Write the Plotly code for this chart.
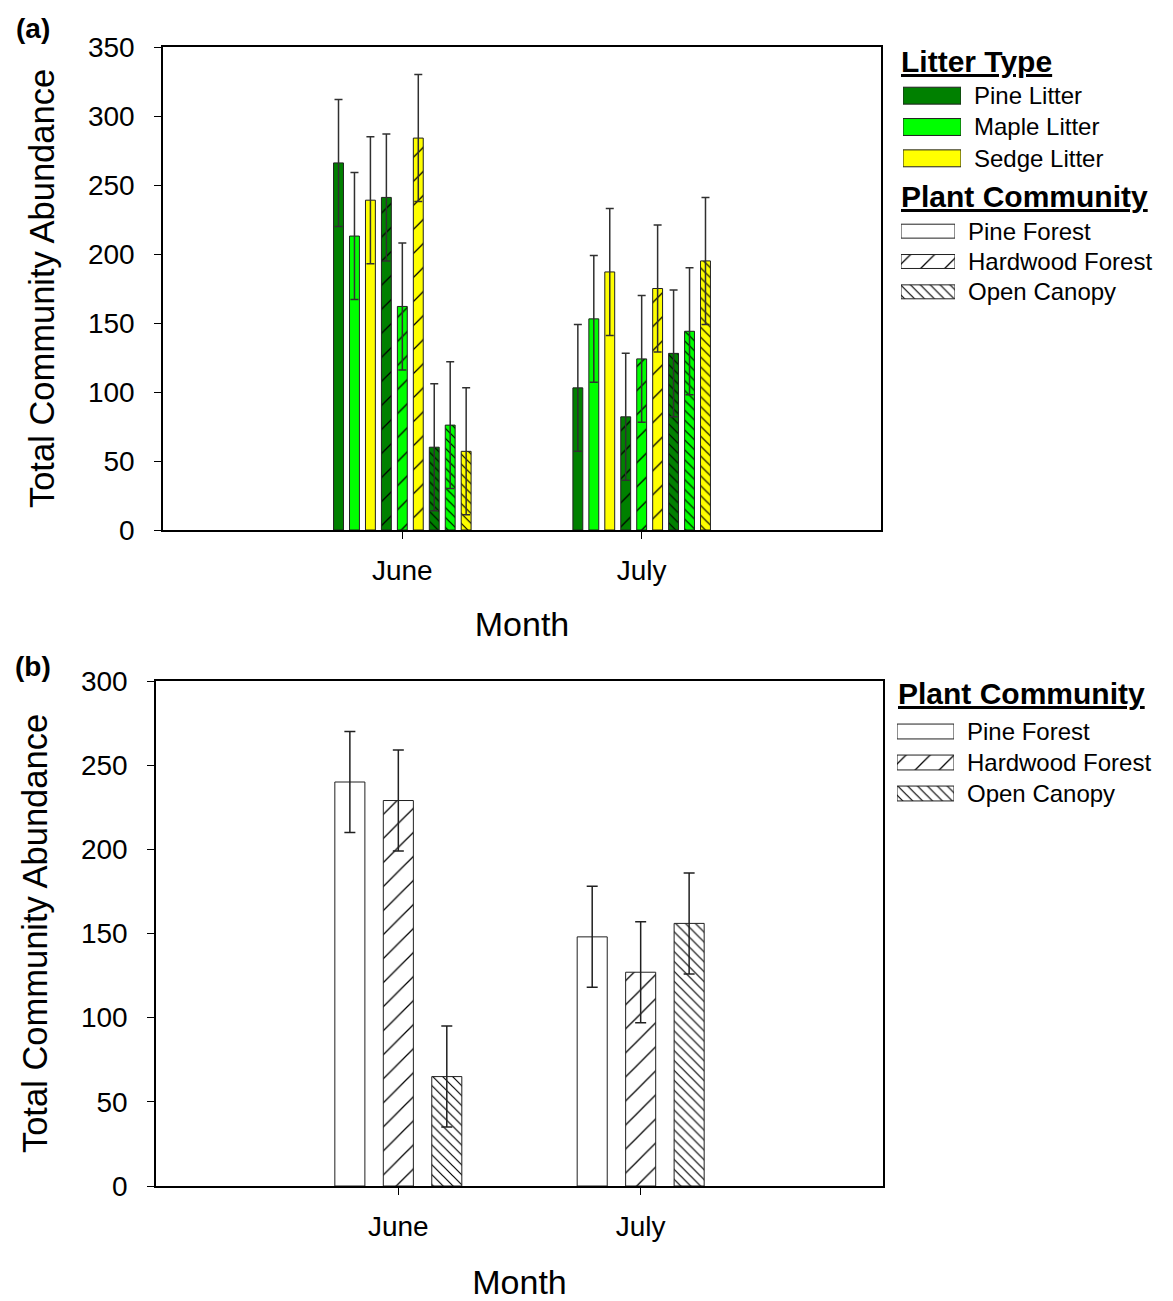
import plotly.graph_objects as go

# ---------------- data ----------------
months = ["June", "July"]
litter_types = ["Pine Litter", "Maple Litter", "Sedge Litter"]
communities = ["Pine Forest", "Hardwood Forest", "Open Canopy"]

# Panel (a): values per litter type (Pine, Maple, Sedge) for each community & month
a_pine_forest_june = [266, 213, 239]
a_pine_forest_july = [103, 153, 187]
a_hardwood_june = [241, 162, 284]
a_hardwood_july = [82, 124, 175]
a_open_june = [60, 76, 57]
a_open_july = [128, 144, 195]
a_error = 46

# Panel (b): values per community (Pine Forest, Hardwood Forest, Open Canopy)
b_june = [240, 229, 65]
b_july = [148, 127, 156]
b_error = 30

# ---------------- styles ----------------
W, H = 1173, 1301
FONT = "Arial, Liberation Sans, sans-serif"
litter_colors = ["#008000", "#00FF00", "#FFFF00"]
pattern_shape = ["", "/", "\\"]
pattern_size = [8, 17, 7]
pattern_solid = [0.2, 0.075, 0.17]


def px(x):
    return x / W


def py(y):
    return 1 - y / H


fig = go.Figure()

a_data = [
    (a_pine_forest_june, a_pine_forest_july),
    (a_hardwood_june, a_hardwood_july),
    (a_open_june, a_open_july),
]

for ci, (june, july) in enumerate(a_data):
    for li in range(3):
        fig.add_trace(go.Bar(
            x=months, y=[june[li], july[li]],
            xaxis="x", yaxis="y",
            marker=dict(
                color=litter_colors[li],
                line=dict(color="#202020", width=1),
                pattern=dict(shape=pattern_shape[ci], fgcolor="black",
                             bgcolor=litter_colors[li],
                             size=pattern_size[ci], solidity=pattern_solid[ci]),
            ),
            error_y=dict(type="constant", value=a_error, color="#303030",
                         thickness=1.5, width=4),
            showlegend=False,
            name=f"{communities[ci]} - {litter_types[li]}",
        ))

for ci in range(3):
    fig.add_trace(go.Bar(
        x=months, y=[b_june[ci], b_july[ci]],
        xaxis="x2", yaxis="y2",
        marker=dict(
            color="white",
            line=dict(color="#202020", width=1),
            pattern=dict(shape=pattern_shape[ci], fgcolor="black", bgcolor="white",
                         size=pattern_size[ci], solidity=pattern_solid[ci]),
        ),
        error_y=dict(type="constant", value=b_error, color="#202020",
                     thickness=1.5, width=5.5),
        showlegend=False,
        name=communities[ci],
    ))

# ---------- legend swatches (bars on small hidden axes) ----------
fig.add_trace(go.Bar(
    x=[1, 1, 1], y=litter_types, orientation="h", width=0.54,
    xaxis="x3", yaxis="y3", showlegend=False, hoverinfo="skip",
    marker=dict(color=litter_colors, line=dict(color="#202020", width=1)),
))
for xa, ya, wd in [("x4", "y4", 0.46), ("x5", "y5", 0.48)]:
    fig.add_trace(go.Bar(
        x=[1, 1, 1], y=communities, orientation="h", width=wd,
        xaxis=xa, yaxis=ya, showlegend=False, hoverinfo="skip",
        marker=dict(color="white", line=dict(color="#202020", width=1),
                    pattern=dict(shape=pattern_shape, fgcolor="black", bgcolor="white",
                                 size=pattern_size, solidity=pattern_solid)),
    ))

axis_common = dict(showgrid=False, zeroline=False, showline=True, linecolor="black",
                   linewidth=1.5, mirror=True, ticks="outside", tickcolor="black",
                   tickwidth=1.2, ticklen=7, automargin=False,
                   tickfont=dict(family=FONT, size=28, color="black"))

hidden_x = dict(visible=False, range=[0, 1], fixedrange=True, automargin=False)
legend_y = dict(showgrid=False, zeroline=False, showline=False, ticks="", side="right",
                range=[2.5, -0.5], fixedrange=True, ticklabelstandoff=12,
                automargin=False,
                tickfont=dict(family=FONT, size=24, color="black"))

fig.update_layout(
    template="none",
    width=W, height=H, autosize=False,
    margin=dict(l=0, r=0, t=0, b=0, pad=0),
    paper_bgcolor="white", plot_bgcolor="white",
    barmode="group", bargap=0.4, bargroupgap=0.38,
    font=dict(family=FONT, color="black"),
    xaxis=dict(axis_common, domain=[px(163), px(881)], range=[-1, 2],
               anchor="y", ticklabelstandoff=8,
               title=dict(text="Month", font=dict(family=FONT, size=34), standoff=27)),
    yaxis=dict(axis_common, domain=[py(530), py(47)], range=[0, 350], dtick=50,
               anchor="x", ticklabelstandoff=14,
               title=dict(text="Total Community Abundance",
                          font=dict(family=FONT, size=34.5), standoff=23)),
    xaxis2=dict(axis_common, domain=[px(156), px(883)], range=[-1, 2],
                anchor="y2", ticklabelstandoff=8,
                title=dict(text="Month", font=dict(family=FONT, size=34), standoff=29)),
    yaxis2=dict(axis_common, domain=[py(1186), py(681)], range=[0, 300], dtick=50,
                anchor="x2", ticklabelstandoff=14,
                title=dict(text="Total Community Abundance",
                           font=dict(family=FONT, size=34.5), standoff=23)),
    xaxis3=dict(hidden_x, domain=[px(903), px(961)], anchor="y3"),
    yaxis3=dict(legend_y, domain=[py(174), py(80)], anchor="x3"),
    xaxis4=dict(hidden_x, domain=[px(901), px(955)], anchor="y4"),
    yaxis4=dict(legend_y, domain=[py(307), py(216)], anchor="x4"),
    xaxis5=dict(hidden_x, domain=[px(897), px(954)], anchor="y5"),
    yaxis5=dict(legend_y, domain=[py(809), py(716)], anchor="x5"),
    annotations=[
        dict(text="<b>(a)</b>", x=px(14), y=py(28), xref="paper", yref="paper",
             xanchor="left", yanchor="middle", showarrow=False,
             font=dict(family=FONT, size=28)),
        dict(text="<b>(b)</b>", x=px(13), y=py(666), xref="paper", yref="paper",
             xanchor="left", yanchor="middle", showarrow=False,
             font=dict(family=FONT, size=28)),
        dict(text="<b><u>Litter Type</u></b>", x=px(899), y=py(61), xref="paper",
             yref="paper", xanchor="left", yanchor="middle", showarrow=False,
             font=dict(family=FONT, size=30)),
        dict(text="<b><u>Plant Community</u></b>", x=px(899), y=py(196), xref="paper",
             yref="paper", xanchor="left", yanchor="middle", showarrow=False,
             font=dict(family=FONT, size=30)),
        dict(text="<b><u>Plant Community</u></b>", x=px(896), y=py(693), xref="paper",
             yref="paper", xanchor="left", yanchor="middle", showarrow=False,
             font=dict(family=FONT, size=30)),
    ],
)

fig.write_html("out.html")
